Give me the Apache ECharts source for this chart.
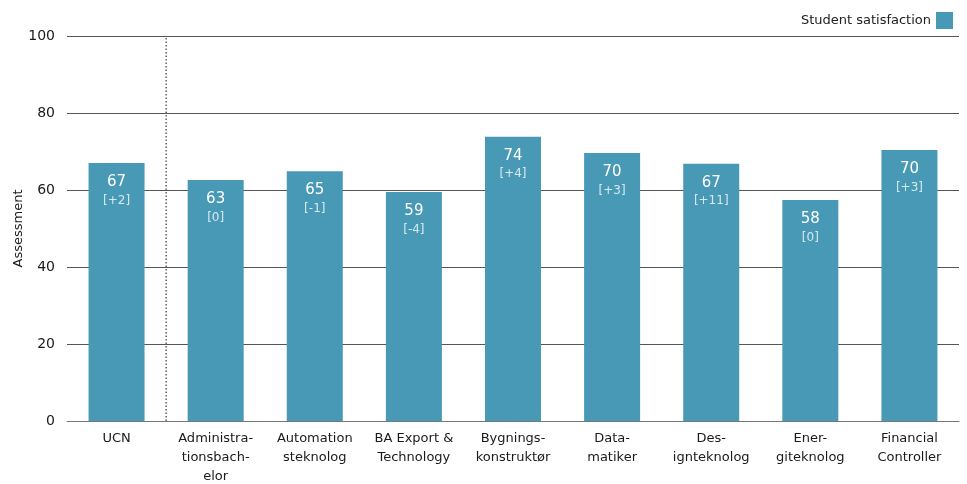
<!DOCTYPE html>
<html><head><meta charset="utf-8">
<script src="https://cdn.jsdelivr.net/npm/echarts@6/dist/echarts.min.js"></script>
<style>html,body{margin:0;padding:0;background:#fff}#c{width:967px;height:484px}</style>
</head><body><div id="c"></div>
<script>
const categories = ['UCN','Administra-\ntionsbach-\nelor','Automation\nsteknolog','BA Export &\nTechnology','Bygnings-\nkonstruktør','Data-\nmatiker','Des-\nignteknolog','Ener-\ngiteknolog','Financial\nController'];
const values = [67.0, 62.6, 64.9, 59.5, 73.8, 69.6, 66.8, 57.4, 70.4];
const shownValues = ['67','63','65','59','74','70','67','58','70'];
const changes = ['+2','0','-1','-4','+4','+3','+11','0','+3'];
const yTicks = [0, 20, 40, 60, 80, 100];
const separatorAt = [1];

const FONT = 'DejaVu Sans';
const chart = echarts.init(document.getElementById('c'));
chart.setOption({
  animation: false,
  textStyle: {fontFamily: FONT},
  grid: {left: 67, right: 8, top: 36, bottom: 63, outerBoundsMode: 'none', containLabel: false},
  legend: {
    right: 9, top: 7, align: 'right', itemWidth: 17, itemHeight: 17, itemGap: 6,
    icon: 'rect',
    textStyle: {fontFamily: FONT, fontSize: 13, color: '#222'},
    data: ['Student satisfaction']
  },
  xAxis: [{
    type: 'category', data: categories,
    axisLine: {lineStyle: {color: '#777'}}, axisTick: {show: false},
    axisLabel: {interval: 0, color: '#1a1a1a', fontSize: 13, fontFamily: FONT, lineHeight: 19, margin: 8}
  }, {
    type: 'value', min: 0, max: categories.length, show: false
  }],
  yAxis: {
    type: 'value', min: yTicks[0], max: yTicks[yTicks.length - 1], interval: 20,
    name: 'Assessment', nameLocation: 'middle', nameGap: 42, nameMoveOverlap: false,
    nameTextStyle: {color: '#1a1a1a', fontSize: 13, fontFamily: FONT},
    axisLine: {show: false}, axisTick: {show: false},
    axisLabel: {color: '#1a1a1a', fontSize: 14, fontFamily: FONT, margin: 12},
    splitLine: {lineStyle: {color: '#555', width: 1}}
  },
  series: [{
    name: 'Student satisfaction', type: 'bar', barWidth: '56.5%',
    itemStyle: {color: '#4899b5'},
    data: values,
    label: {
      show: true, position: 'insideTop', distance: 9,
      formatter: p => '{v|' + shownValues[p.dataIndex] + '}\n{c|[' + changes[p.dataIndex] + ']}',
      rich: {
        v: {color: '#fff', fontSize: 15, fontFamily: FONT, lineHeight: 20},
        c: {color: '#d6e9f0', fontSize: 12, fontFamily: FONT, lineHeight: 17}
      }
    },
    z: 3
  }, {
    type: 'line', xAxisIndex: 1, silent: true, symbol: 'none',
    data: [[separatorAt[0], 0], [separatorAt[0], 100]],
    lineStyle: {color: '#111', width: 1, type: [1.5, 2]},
    z: 2
  }]
});
</script></body></html>
